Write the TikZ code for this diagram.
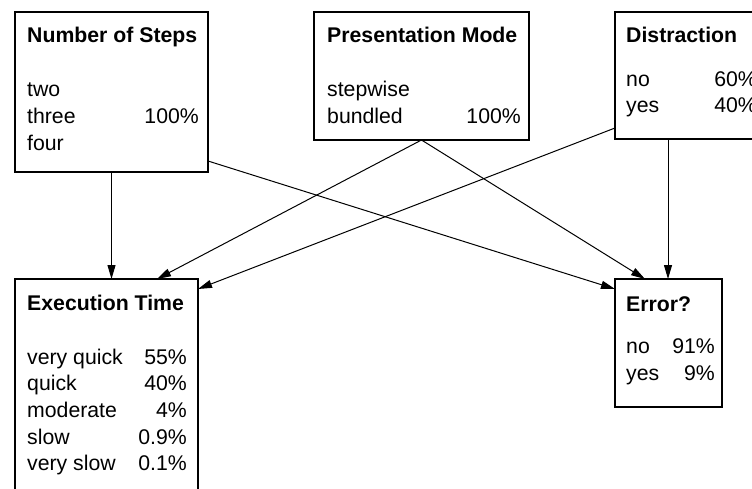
\documentclass[tikz,border=0pt]{standalone}
\usepackage{fontspec}
\setmainfont{Liberation Sans}
\usetikzlibrary{arrows.meta,calc}

\begin{document}
\begin{tikzpicture}[x=1pt,y=-1pt,
  box/.style={draw,line width=2pt,inner sep=0pt,outer sep=0pt,anchor=north west,rectangle},
  ttl/.style={anchor=base west,inner sep=0pt,font=\bfseries\fontsize{21.25}{26}\selectfont},
  lbl/.style={anchor=base west,inner sep=0pt,font=\fontsize{21.25}{26}\selectfont},
  pct/.style={anchor=base east,inner sep=0pt,font=\fontsize{21.25}{26}\selectfont},
  link/.style={line width=1pt,-{Triangle[length=14pt,width=8pt]}}]
\useasboundingbox (0,0) rectangle (752,489);
\clip (0,0) rectangle (752,489);

% variable boxes
\node[box,minimum width=193pt,minimum height=160pt] (steps) at (15,12) {};
\node[box,minimum width=215pt,minimum height=128pt] (mode) at (314,12) {};
\node[box,minimum width=152pt,minimum height=127pt] (dist) at (615,12) {};
\node[box,minimum width=183pt,minimum height=225pt] (exec) at (15,279) {};
\node[box,minimum width=107pt,minimum height=128pt] (err) at (615,279) {};

% Number of Steps
\node[ttl] (stepsT) at (27,43) {Number of Steps};
\node[lbl] (steps1) at (27,97) {two};
\node[lbl] (steps2) at (27,124) {three};
\node[pct] (steps2p) at (199,124) {100\%};
\node[lbl] (steps3) at (27,150.5) {four};

% Presentation Mode
\node[ttl] (modeT) at (327,43) {Presentation Mode};
\node[lbl] (mode1) at (327,97) {stepwise};
\node[lbl] (mode2) at (327,123.5) {bundled};
\node[pct] (mode2p) at (521,123.5) {100\%};

% Distraction
\node[ttl] (distT) at (626,43) {Distraction};
\node[lbl] (dist1) at (626,87) {no};
\node[pct] (dist1p) at (757,87) {60\%};
\node[lbl] (dist2) at (626,113) {yes};
\node[pct] (dist2p) at (757,113) {40\%};

% Execution Time
\node[ttl] (execT) at (27,310) {Execution Time};
\node[lbl] (exec1) at (27,364) {very quick};
\node[pct] (exec1p) at (187,364) {55\%};
\node[lbl] (exec2) at (27,390.7) {quick};
\node[pct] (exec2p) at (187,390.7) {40\%};
\node[lbl] (exec3) at (27,417.3) {moderate};
\node[pct] (exec3p) at (187,417.3) {4\%};
\node[lbl] (exec4) at (27,444) {slow};
\node[pct] (exec4p) at (187,444) {0.9\%};
\node[lbl] (exec5) at (27,470.7) {very slow};
\node[pct] (exec5p) at (187,470.7) {0.1\%};

% Error?
\node[ttl] (errT) at (626,311) {Error?};
\node[lbl] (err1) at (626,353) {no};
\node[pct] (err1p) at (715,353) {91\%};
\node[lbl] (err2) at (626,380) {yes};
\node[pct] (err2p) at (715,380) {9\%};

% dependencies
\draw[link] (steps.south) -- (steps.south |- exec.north);
\draw[link] (mode.south) -- ($(exec.north west)+(142,0)$);
\draw[link] ($(dist.south west)+(0,-11)$) -- ($(exec.north east)+(0,10)$);
\draw[link] ($(steps.north east)+(0,149)$) -- ($(err.north west)+(0,10)$);
\draw[link] (mode.south) -- ($(err.north west)+(30,0)$);
\draw[link] ($(dist.south west)+(53,0)$) -- ($(err.north west)+(53,0)$);
\end{tikzpicture}
\end{document}
